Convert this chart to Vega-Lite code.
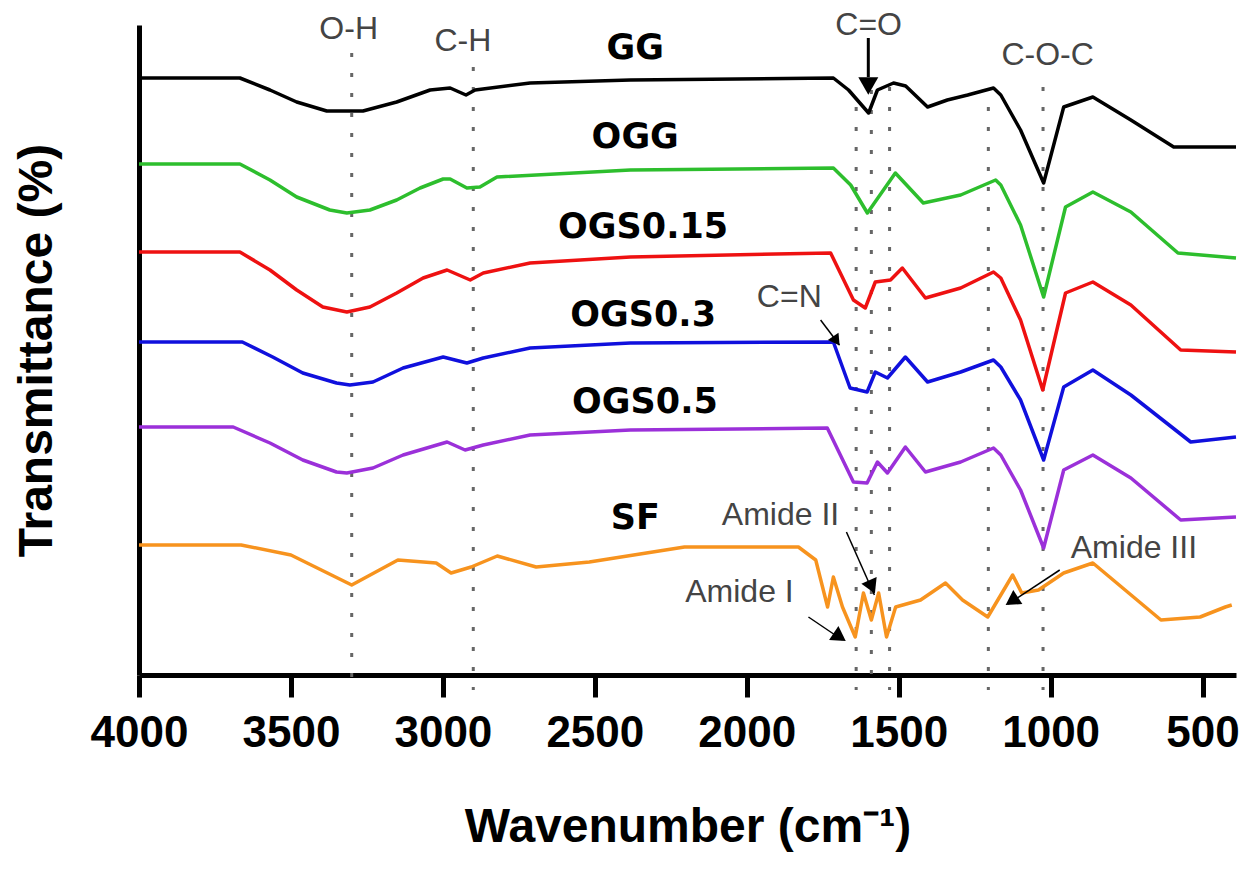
{
  "$schema": "https://vega.github.io/schema/vega-lite/v6.json",
  "width": 1097,
  "height": 650,
  "autosize": "none",
  "padding": {"left": 139, "top": 25, "right": 24, "bottom": 199},
  "background": "white",
  "config": {"view": {"stroke": null}, "axis": {"grid": false}},
  "datasets": {
    "spectra": [
      {"sample": "GG", "wn": 4000, "t": 597}, {"sample": "GG", "wn": 3668, "t": 597}, {"sample": "GG", "wn": 3569, "t": 585},
      {"sample": "GG", "wn": 3481, "t": 573}, {"sample": "GG", "wn": 3382, "t": 564}, {"sample": "GG", "wn": 3263, "t": 564},
      {"sample": "GG", "wn": 3152, "t": 573}, {"sample": "GG", "wn": 3042, "t": 585},
      {"sample": "GG", "wn": 2976, "t": 587}, {"sample": "GG", "wn": 2924, "t": 580}, {"sample": "GG", "wn": 2894, "t": 585},
      {"sample": "GG", "wn": 2713, "t": 592}, {"sample": "GG", "wn": 2383, "t": 595}, {"sample": "GG", "wn": 1715, "t": 597},
      {"sample": "GG", "wn": 1665, "t": 585}, {"sample": "GG", "wn": 1599, "t": 562}, {"sample": "GG", "wn": 1570, "t": 585},
      {"sample": "GG", "wn": 1517, "t": 592}, {"sample": "GG", "wn": 1477, "t": 589}, {"sample": "GG", "wn": 1405, "t": 568},
      {"sample": "GG", "wn": 1340, "t": 575}, {"sample": "GG", "wn": 1273, "t": 580}, {"sample": "GG", "wn": 1188, "t": 587},
      {"sample": "GG", "wn": 1164, "t": 580}, {"sample": "GG", "wn": 1099, "t": 545}, {"sample": "GG", "wn": 1023, "t": 492},
      {"sample": "GG", "wn": 957, "t": 568}, {"sample": "GG", "wn": 861, "t": 578}, {"sample": "GG", "wn": 736, "t": 555},
      {"sample": "GG", "wn": 595, "t": 528}, {"sample": "GG", "wn": 390, "t": 528},

      {"sample": "OGG", "wn": 4000, "t": 511}, {"sample": "OGG", "wn": 3668, "t": 511}, {"sample": "OGG", "wn": 3569, "t": 495},
      {"sample": "OGG", "wn": 3481, "t": 478}, {"sample": "OGG", "wn": 3372, "t": 465}, {"sample": "OGG", "wn": 3316, "t": 462},
      {"sample": "OGG", "wn": 3240, "t": 465}, {"sample": "OGG", "wn": 3152, "t": 475}, {"sample": "OGG", "wn": 3075, "t": 487},
      {"sample": "OGG", "wn": 2999, "t": 496},
      {"sample": "OGG", "wn": 2976, "t": 496}, {"sample": "OGG", "wn": 2921, "t": 487}, {"sample": "OGG", "wn": 2878, "t": 488},
      {"sample": "OGG", "wn": 2822, "t": 498}, {"sample": "OGG", "wn": 2383, "t": 505}, {"sample": "OGG", "wn": 1715, "t": 507},
      {"sample": "OGG", "wn": 1658, "t": 490}, {"sample": "OGG", "wn": 1603, "t": 462}, {"sample": "OGG", "wn": 1511, "t": 502},
      {"sample": "OGG", "wn": 1419, "t": 472}, {"sample": "OGG", "wn": 1296, "t": 480}, {"sample": "OGG", "wn": 1181, "t": 495},
      {"sample": "OGG", "wn": 1164, "t": 490}, {"sample": "OGG", "wn": 1099, "t": 450}, {"sample": "OGG", "wn": 1023, "t": 378},
      {"sample": "OGG", "wn": 951, "t": 468}, {"sample": "OGG", "wn": 861, "t": 483}, {"sample": "OGG", "wn": 736, "t": 463},
      {"sample": "OGG", "wn": 581, "t": 422}, {"sample": "OGG", "wn": 390, "t": 417},

      {"sample": "OGS0.15", "wn": 4000, "t": 423}, {"sample": "OGS0.15", "wn": 3668, "t": 423}, {"sample": "OGS0.15", "wn": 3569, "t": 405},
      {"sample": "OGS0.15", "wn": 3481, "t": 385}, {"sample": "OGS0.15", "wn": 3395, "t": 368}, {"sample": "OGS0.15", "wn": 3316, "t": 363},
      {"sample": "OGS0.15", "wn": 3240, "t": 368}, {"sample": "OGS0.15", "wn": 3152, "t": 382}, {"sample": "OGS0.15", "wn": 3065, "t": 397},
      {"sample": "OGS0.15", "wn": 2986, "t": 405},
      {"sample": "OGS0.15", "wn": 2910, "t": 395}, {"sample": "OGS0.15", "wn": 2867, "t": 402}, {"sample": "OGS0.15", "wn": 2713, "t": 412},
      {"sample": "OGS0.15", "wn": 2383, "t": 418}, {"sample": "OGS0.15", "wn": 1724, "t": 422}, {"sample": "OGS0.15", "wn": 1649, "t": 375},
      {"sample": "OGS0.15", "wn": 1610, "t": 367}, {"sample": "OGS0.15", "wn": 1577, "t": 393}, {"sample": "OGS0.15", "wn": 1527, "t": 395},
      {"sample": "OGS0.15", "wn": 1488, "t": 407}, {"sample": "OGS0.15", "wn": 1412, "t": 377}, {"sample": "OGS0.15", "wn": 1296, "t": 387},
      {"sample": "OGS0.15", "wn": 1188, "t": 403}, {"sample": "OGS0.15", "wn": 1164, "t": 397}, {"sample": "OGS0.15", "wn": 1099, "t": 355},
      {"sample": "OGS0.15", "wn": 1026, "t": 285}, {"sample": "OGS0.15", "wn": 951, "t": 382}, {"sample": "OGS0.15", "wn": 861, "t": 393},
      {"sample": "OGS0.15", "wn": 736, "t": 370}, {"sample": "OGS0.15", "wn": 572, "t": 325}, {"sample": "OGS0.15", "wn": 390, "t": 323},

      {"sample": "OGS0.3", "wn": 4000, "t": 333}, {"sample": "OGS0.3", "wn": 3660, "t": 333}, {"sample": "OGS0.3", "wn": 3560, "t": 318},
      {"sample": "OGS0.3", "wn": 3461, "t": 302}, {"sample": "OGS0.3", "wn": 3350, "t": 292}, {"sample": "OGS0.3", "wn": 3306, "t": 290},
      {"sample": "OGS0.3", "wn": 3230, "t": 293}, {"sample": "OGS0.3", "wn": 3131, "t": 307}, {"sample": "OGS0.3", "wn": 2999, "t": 318},
      {"sample": "OGS0.3", "wn": 2921, "t": 312}, {"sample": "OGS0.3", "wn": 2867, "t": 317}, {"sample": "OGS0.3", "wn": 2713, "t": 327},
      {"sample": "OGS0.3", "wn": 2383, "t": 332}, {"sample": "OGS0.3", "wn": 1715, "t": 333}, {"sample": "OGS0.3", "wn": 1660, "t": 287},
      {"sample": "OGS0.3", "wn": 1604, "t": 283}, {"sample": "OGS0.3", "wn": 1577, "t": 303}, {"sample": "OGS0.3", "wn": 1537, "t": 297},
      {"sample": "OGS0.3", "wn": 1478, "t": 318}, {"sample": "OGS0.3", "wn": 1405, "t": 293}, {"sample": "OGS0.3", "wn": 1296, "t": 303},
      {"sample": "OGS0.3", "wn": 1188, "t": 315}, {"sample": "OGS0.3", "wn": 1164, "t": 308}, {"sample": "OGS0.3", "wn": 1099, "t": 275},
      {"sample": "OGS0.3", "wn": 1023, "t": 215}, {"sample": "OGS0.3", "wn": 957, "t": 288}, {"sample": "OGS0.3", "wn": 861, "t": 305},
      {"sample": "OGS0.3", "wn": 736, "t": 280}, {"sample": "OGS0.3", "wn": 539, "t": 233}, {"sample": "OGS0.3", "wn": 390, "t": 238},

      {"sample": "OGS0.5", "wn": 4000, "t": 248}, {"sample": "OGS0.5", "wn": 3690, "t": 248}, {"sample": "OGS0.5", "wn": 3569, "t": 232},
      {"sample": "OGS0.5", "wn": 3461, "t": 215}, {"sample": "OGS0.5", "wn": 3350, "t": 203}, {"sample": "OGS0.5", "wn": 3316, "t": 202},
      {"sample": "OGS0.5", "wn": 3230, "t": 207}, {"sample": "OGS0.5", "wn": 3131, "t": 220}, {"sample": "OGS0.5", "wn": 2986, "t": 233},
      {"sample": "OGS0.5", "wn": 2927, "t": 225}, {"sample": "OGS0.5", "wn": 2867, "t": 230}, {"sample": "OGS0.5", "wn": 2713, "t": 240},
      {"sample": "OGS0.5", "wn": 2383, "t": 245}, {"sample": "OGS0.5", "wn": 1735, "t": 247}, {"sample": "OGS0.5", "wn": 1649, "t": 193},
      {"sample": "OGS0.5", "wn": 1604, "t": 192}, {"sample": "OGS0.5", "wn": 1570, "t": 213}, {"sample": "OGS0.5", "wn": 1537, "t": 202},
      {"sample": "OGS0.5", "wn": 1478, "t": 228}, {"sample": "OGS0.5", "wn": 1412, "t": 203}, {"sample": "OGS0.5", "wn": 1296, "t": 213},
      {"sample": "OGS0.5", "wn": 1188, "t": 227}, {"sample": "OGS0.5", "wn": 1164, "t": 220}, {"sample": "OGS0.5", "wn": 1099, "t": 185},
      {"sample": "OGS0.5", "wn": 1023, "t": 127}, {"sample": "OGS0.5", "wn": 957, "t": 205}, {"sample": "OGS0.5", "wn": 861, "t": 220},
      {"sample": "OGS0.5", "wn": 736, "t": 197}, {"sample": "OGS0.5", "wn": 572, "t": 155}, {"sample": "OGS0.5", "wn": 390, "t": 158},

      {"sample": "SF", "wn": 4000, "t": 130}, {"sample": "SF", "wn": 3664, "t": 130}, {"sample": "SF", "wn": 3500, "t": 120},
      {"sample": "SF", "wn": 3300, "t": 90}, {"sample": "SF", "wn": 3148, "t": 115}, {"sample": "SF", "wn": 3022, "t": 112},
      {"sample": "SF", "wn": 2973, "t": 102}, {"sample": "SF", "wn": 2907, "t": 108}, {"sample": "SF", "wn": 2821, "t": 119},
      {"sample": "SF", "wn": 2693, "t": 108}, {"sample": "SF", "wn": 2518, "t": 113}, {"sample": "SF", "wn": 2205, "t": 128},
      {"sample": "SF", "wn": 1830, "t": 128}, {"sample": "SF", "wn": 1773, "t": 115}, {"sample": "SF", "wn": 1734, "t": 68},
      {"sample": "SF", "wn": 1715, "t": 98}, {"sample": "SF", "wn": 1685, "t": 68}, {"sample": "SF", "wn": 1643, "t": 38},
      {"sample": "SF", "wn": 1616, "t": 82}, {"sample": "SF", "wn": 1590, "t": 55}, {"sample": "SF", "wn": 1566, "t": 82},
      {"sample": "SF", "wn": 1540, "t": 38}, {"sample": "SF", "wn": 1510, "t": 68}, {"sample": "SF", "wn": 1428, "t": 75},
      {"sample": "SF", "wn": 1346, "t": 92}, {"sample": "SF", "wn": 1290, "t": 75}, {"sample": "SF", "wn": 1207, "t": 58},
      {"sample": "SF", "wn": 1125, "t": 100}, {"sample": "SF", "wn": 1095, "t": 82}, {"sample": "SF", "wn": 1040, "t": 85},
      {"sample": "SF", "wn": 957, "t": 102}, {"sample": "SF", "wn": 861, "t": 112}, {"sample": "SF", "wn": 637, "t": 55},
      {"sample": "SF", "wn": 508, "t": 58}, {"sample": "SF", "wn": 425, "t": 68}, {"sample": "SF", "wn": 404, "t": 70}
    ],
    "peaks": [
      {"wn": 3300, "t": 622}, {"wn": 2900, "t": 608}, {"wn": 1640, "t": 568}, {"wn": 1590, "t": 585},
      {"wn": 1530, "t": 588}, {"wn": 1205, "t": 568}, {"wn": 1025, "t": 588}
    ],
    "names": [
      {"text": "GG", "wn": 2367, "t": 627}, {"text": "OGG", "wn": 2367, "t": 538},
      {"text": "OGS0.15", "wn": 2341, "t": 448}, {"text": "OGS0.3", "wn": 2341, "t": 360},
      {"text": "OGS0.5", "wn": 2335, "t": 273}, {"text": "SF", "wn": 2367, "t": 157}
    ],
    "bands": [
      {"text": "O-H", "wn": 3310, "t": 646}, {"text": "C-H", "wn": 2934, "t": 634},
      {"text": "C=O", "wn": 1599, "t": 650}, {"text": "C-O-C", "wn": 1010, "t": 620},
      {"text": "C=N", "wn": 1860, "t": 378}, {"text": "Amide II", "wn": 1889, "t": 160},
      {"text": "Amide I", "wn": 2024, "t": 83}, {"text": "Amide III", "wn": 726, "t": 127}
    ],
    "arrows": [
      {"name": "C=O", "wn": 1600, "t": 637, "wn2": 1600, "t2": 598},
      {"name": "C=N", "wn": 1757, "t": 355, "wn2": 1695, "t2": 330},
      {"name": "Amide II", "wn": 1672, "t": 143, "wn2": 1580, "t2": 80},
      {"name": "Amide I", "wn": 1797, "t": 58, "wn2": 1685, "t2": 35},
      {"name": "Amide III", "wn": 970, "t": 105, "wn2": 1140, "t2": 71}
    ],
    "heads": [
      {"name": "C=O", "wn": 1600, "t": 589},
      {"name": "C=N", "wn": 1705, "t": 334},
      {"name": "Amide II", "wn": 1588, "t": 88},
      {"name": "Amide I", "wn": 1694, "t": 38},
      {"name": "Amide III", "wn": 1128, "t": 74}
    ]
  },
  "encoding": {
    "x": {
      "field": "wn", "type": "quantitative",
      "scale": {"domain": [4000, 390], "nice": false, "zero": false},
      "axis": {
        "values": [4000, 3500, 3000, 2500, 2000, 1500, 1000, 500], "format": "d",
        "domainColor": "black", "domainWidth": 5,
        "tickColor": "black", "tickWidth": 5, "tickSize": 22,
        "labelFont": "Liberation Sans", "labelFontSize": 44, "labelFontWeight": "bold",
        "labelColor": "black", "labelPadding": 14, "labelFlush": false, "labelOverlap": false,
        "title": "Wavenumber (cm⁻¹)", "titleFont": "Liberation Sans", "titleFontSize": 48,
        "titleFontWeight": "bold", "titleColor": "black", "titlePadding": 48
      }
    },
    "y": {
      "field": "t", "type": "quantitative",
      "scale": {"domain": [0, 650], "nice": false},
      "axis": {
        "ticks": false, "labels": false, "domainColor": "black", "domainWidth": 5,
        "title": "Transmittance (%)", "titleFont": "Liberation Sans", "titleFontSize": 48,
        "titleFontWeight": "bold", "titleColor": "black", "titlePadding": 78
      }
    }
  },
  "layer": [
    {
      "data": {"name": "peaks"},
      "mark": {"type": "rule", "color": "#666666", "strokeWidth": 3, "strokeDash": [4, 16]},
      "encoding": {"y2": {"datum": -15}}
    },
    {
      "data": {"name": "spectra"},
      "mark": {"type": "line", "strokeWidth": 3.5, "strokeJoin": "round"},
      "encoding": {
        "color": {
          "field": "sample", "type": "nominal", "legend": null,
          "scale": {
            "domain": ["GG", "OGG", "OGS0.15", "OGS0.3", "OGS0.5", "SF"],
            "range": ["#000000", "#2dbe2d", "#ee1111", "#1010dd", "#9b30d9", "#f7931e"]
          }
        }
      }
    },
    {
      "data": {"name": "names"},
      "mark": {"type": "text", "font": "DejaVu Sans", "fontWeight": "bold", "fontSize": 35, "color": "black", "align": "center", "baseline": "middle"},
      "encoding": {"text": {"field": "text"}}
    },
    {
      "data": {"name": "bands"},
      "mark": {"type": "text", "font": "Liberation Sans", "fontSize": 32, "color": "#444444", "align": "center", "baseline": "middle"},
      "encoding": {"text": {"field": "text"}}
    },
    {
      "data": {"name": "arrows"},
      "transform": [{"filter": "datum.name === 'C=O'"}],
      "mark": {"type": "rule", "color": "black", "strokeWidth": 3},
      "encoding": {"x2": {"field": "wn2"}, "y2": {"field": "t2"}}
    },
    {
      "data": {"name": "arrows"},
      "transform": [{"filter": "datum.name !== 'C=O'"}],
      "mark": {"type": "rule", "color": "black", "strokeWidth": 1.5},
      "encoding": {"x2": {"field": "wn2"}, "y2": {"field": "t2"}}
    },
    {
      "data": {"name": "heads"},
      "transform": [{"filter": "datum.name === 'C=O'"}],
      "mark": {"type": "point", "shape": "triangle-up", "filled": true, "color": "black", "opacity": 1, "size": 400, "angle": 180},
      "encoding": {}
    },
    {
      "data": {"name": "heads"},
      "transform": [{"filter": "datum.name === 'C=N'"}],
      "mark": {"type": "point", "shape": "triangle-up", "filled": true, "color": "black", "opacity": 1, "size": 170, "angle": 145},
      "encoding": {}
    },
    {
      "data": {"name": "heads"},
      "transform": [{"filter": "datum.name === 'Amide II'"}],
      "mark": {"type": "point", "shape": "triangle-up", "filled": true, "color": "black", "opacity": 1, "size": 280, "angle": 156},
      "encoding": {}
    },
    {
      "data": {"name": "heads"},
      "transform": [{"filter": "datum.name === 'Amide I'"}],
      "mark": {"type": "point", "shape": "triangle-up", "filled": true, "color": "black", "opacity": 1, "size": 280, "angle": 124},
      "encoding": {}
    },
    {
      "data": {"name": "heads"},
      "transform": [{"filter": "datum.name === 'Amide III'"}],
      "mark": {"type": "point", "shape": "triangle-up", "filled": true, "color": "black", "opacity": 1, "size": 280, "angle": 237},
      "encoding": {}
    }
  ]
}
